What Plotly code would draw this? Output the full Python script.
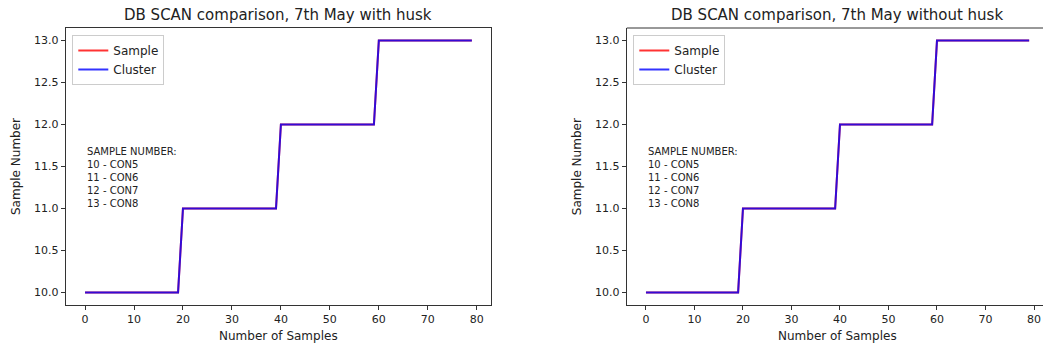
import plotly.graph_objects as go

# ---- data ----
sample_index = list(range(80))

with_husk_sample = [
    10, 10, 10, 10, 10, 10, 10, 10, 10, 10, 10, 10, 10, 10, 10, 10, 10, 10, 10, 10,
    11, 11, 11, 11, 11, 11, 11, 11, 11, 11, 11, 11, 11, 11, 11, 11, 11, 11, 11, 11,
    12, 12, 12, 12, 12, 12, 12, 12, 12, 12, 12, 12, 12, 12, 12, 12, 12, 12, 12, 12,
    13, 13, 13, 13, 13, 13, 13, 13, 13, 13, 13, 13, 13, 13, 13, 13, 13, 13, 13, 13,
]
with_husk_cluster = [
    10, 10, 10, 10, 10, 10, 10, 10, 10, 10, 10, 10, 10, 10, 10, 10, 10, 10, 10, 10,
    11, 11, 11, 11, 11, 11, 11, 11, 11, 11, 11, 11, 11, 11, 11, 11, 11, 11, 11, 11,
    12, 12, 12, 12, 12, 12, 12, 12, 12, 12, 12, 12, 12, 12, 12, 12, 12, 12, 12, 12,
    13, 13, 13, 13, 13, 13, 13, 13, 13, 13, 13, 13, 13, 13, 13, 13, 13, 13, 13, 13,
]
without_husk_sample = [
    10, 10, 10, 10, 10, 10, 10, 10, 10, 10, 10, 10, 10, 10, 10, 10, 10, 10, 10, 10,
    11, 11, 11, 11, 11, 11, 11, 11, 11, 11, 11, 11, 11, 11, 11, 11, 11, 11, 11, 11,
    12, 12, 12, 12, 12, 12, 12, 12, 12, 12, 12, 12, 12, 12, 12, 12, 12, 12, 12, 12,
    13, 13, 13, 13, 13, 13, 13, 13, 13, 13, 13, 13, 13, 13, 13, 13, 13, 13, 13, 13,
]
without_husk_cluster = [
    10, 10, 10, 10, 10, 10, 10, 10, 10, 10, 10, 10, 10, 10, 10, 10, 10, 10, 10, 10,
    11, 11, 11, 11, 11, 11, 11, 11, 11, 11, 11, 11, 11, 11, 11, 11, 11, 11, 11, 11,
    12, 12, 12, 12, 12, 12, 12, 12, 12, 12, 12, 12, 12, 12, 12, 12, 12, 12, 12, 12,
    13, 13, 13, 13, 13, 13, 13, 13, 13, 13, 13, 13, 13, 13, 13, 13, 13, 13, 13, 13,
]

titles = ["DB SCAN comparison, 7th May with husk", "DB SCAN comparison, 7th May without husk"]
series_names = ["Sample", "Cluster"]
x_label = "Number of Samples"
y_label = "Sample Number"
note_text = "SAMPLE NUMBER:<br>10 - CON5<br>11 - CON6<br>12 - CON7<br>13 - CON8"
x_ticks = [0, 10, 20, 30, 40, 50, 60, 70, 80]
y_ticks = [10.0, 10.5, 11.0, 11.5, 12.0, 12.5, 13.0]

# ---- figure ----
W, H = 1043, 349
MT, MB = 28, 44
PH = H - MT - MB
FONT = "DejaVu Sans"
RED = "rgba(255,0,0,0.8)"
BLUE = "rgba(0,0,255,0.8)"
AX = "#333333"

def py(p):  # pixel y -> paper y
    return (H - MB - p) / PH

fig = go.Figure()
fig.add_trace(go.Scatter(x=sample_index, y=with_husk_sample, name=series_names[0], mode="lines",
                         line=dict(color=RED, width=2), xaxis="x", yaxis="y", legend="legend"))
fig.add_trace(go.Scatter(x=sample_index, y=with_husk_cluster, name=series_names[1], mode="lines",
                         line=dict(color=BLUE, width=2), xaxis="x", yaxis="y", legend="legend"))
fig.add_trace(go.Scatter(x=sample_index, y=without_husk_sample, name=series_names[0], mode="lines",
                         line=dict(color=RED, width=2), xaxis="x2", yaxis="y2", legend="legend2"))
fig.add_trace(go.Scatter(x=sample_index, y=without_husk_cluster, name=series_names[1], mode="lines",
                         line=dict(color=BLUE, width=2), xaxis="x2", yaxis="y2", legend="legend2"))

common_axis = dict(showgrid=False, zeroline=False, showline=True, linecolor=AX, linewidth=1,
                   ticks="outside", ticklen=4, tickwidth=1, tickcolor=AX,
                   tickfont=dict(family=FONT, size=11, color="#222222"))

d1 = [65.7 / W, 491.2 / W]
d2 = [626.8 / W, 1.0]

legend_common = dict(xanchor="left", yanchor="top", bgcolor="white",
                     bordercolor="#cccccc", borderwidth=1,
                     font=dict(family=FONT, size=12, color="#222222"),
                     itemwidth=30, tracegroupgap=0)

fig.update_layout(
    width=W, height=H,
    margin=dict(l=0, r=0, t=MT, b=MB),
    paper_bgcolor="white", plot_bgcolor="white",
    font=dict(family=FONT, color="#222222"),
    xaxis=dict(domain=d1, range=[-3.95, 82.95], tickvals=x_ticks, mirror=True, anchor="y", **common_axis),
    yaxis=dict(domain=[0, 1], range=[9.85, 13.15], tickvals=y_ticks, tickformat=".1f", mirror=True,
               anchor="x", **common_axis),
    xaxis2=dict(domain=d2, range=[-3.95, (W - 646) / 4.85], tickvals=x_ticks, mirror=False, anchor="y2",
                **common_axis),
    yaxis2=dict(domain=[0, 1], range=[9.85, 13.15], tickvals=y_ticks, tickformat=".1f", mirror=False,
                anchor="x2", **common_axis),
    legend=dict(x=72.3 / W, y=py(35), **legend_common),
    legend2=dict(x=633.3 / W, y=py(35), **legend_common),
    showlegend=True,
    shapes=[dict(type="line", xref="paper", yref="paper", x0=d2[0], x1=1.0, y0=1, y1=1,
                 line=dict(color=AX, width=1))],
)

ann = []
centers = [278.4, 837.0]
ylab_x = [15.5, 576.7]
for i, (title, cx) in enumerate(zip(titles, centers)):
    ann.append(dict(text=title, x=cx / W, y=py(15), xref="paper", yref="paper", showarrow=False,
                    xanchor="center", yanchor="middle", font=dict(family=FONT, size=15, color="#222222")))
    ann.append(dict(text=x_label, x=cx / W, y=py(336), xref="paper", yref="paper", showarrow=False,
                    xanchor="center", yanchor="middle", font=dict(family=FONT, size=12, color="#222222")))
    ann.append(dict(text=y_label, x=ylab_x[i] / W, y=py(166.5), xref="paper", yref="paper", showarrow=False,
                    xanchor="center", yanchor="middle", textangle=-90,
                    font=dict(family=FONT, size=12, color="#222222")))
for xr, yr in (("x", "y"), ("x2", "y2")):
    ann.append(dict(text=note_text, x=0, y=11.0, xref=xr, yref=yr, showarrow=False, xanchor="left",
                    yanchor="bottom", align="left", yshift=-3,
                    font=dict(family=FONT, size=10, color="#222222")))
fig.update_layout(annotations=ann)

fig.write_html("out.html", config={"displayModeBar": False},
               post_script="document.body.style.margin='0';document.body.style.overflow='hidden';")
